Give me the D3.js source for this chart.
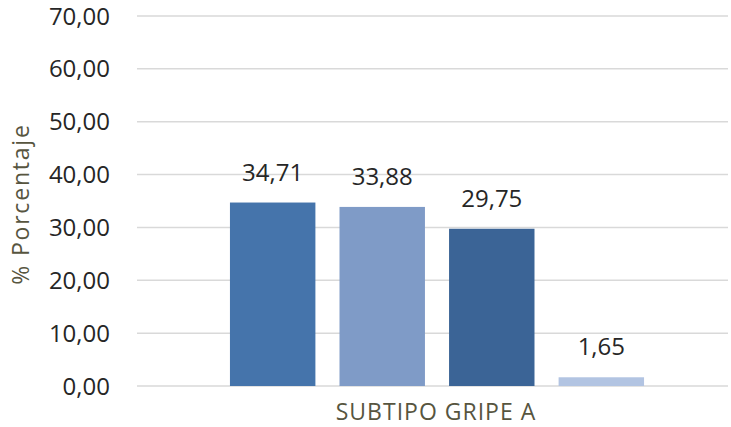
<!DOCTYPE html>
<html>
<head>
<meta charset="utf-8">
<script src="https://cdn.jsdelivr.net/npm/d3@7"></script>
<style>
  body { margin: 0; background: #fff; }
  text { font-family: "Open Sans", sans-serif; }
</style>
</head>
<body>
<div id="chart"></div>
<script>
// data
var category = "SUBTIPO GRIPE A";
var series = ["s1", "s2", "s3", "s4"];
var values = [34.71, 33.88, 29.75, 1.65];
var colors = ["#4574ab", "#7f9bc7", "#3b6496", "#b2c4e2"];
var yTicks = [0, 10, 20, 30, 40, 50, 60, 70];

var width = 731, height = 427;
var plotLeft = 137, plotRight = 728;

var svg = d3.select("#chart").append("svg")
  .attr("width", width)
  .attr("height", height);

var y = d3.scaleLinear().domain([0, 70]).range([386, 16]);

var x = d3.scaleBand()
  .domain(series)
  .range([219, 655])
  .paddingInner(0.22)
  .paddingOuter(0.1);

var fmt = function(d) { return d.toFixed(2).replace(".", ","); };

// gridlines
svg.append("g")
  .selectAll("line")
  .data(yTicks)
  .enter().append("line")
  .attr("x1", plotLeft)
  .attr("x2", plotRight)
  .attr("y1", function(d) { return y(d); })
  .attr("y2", function(d) { return y(d); })
  .attr("stroke", "#d9d9d9")
  .attr("stroke-width", 1.5);

// tick labels
svg.append("g")
  .selectAll("text")
  .data(yTicks)
  .enter().append("text")
  .attr("x", 110)
  .attr("y", function(d) { return y(d) + 8.5; })
  .attr("text-anchor", "end")
  .attr("font-size", 24)
  .attr("fill", "#262626")
  .text(fmt);

// bars
svg.append("g")
  .selectAll("rect")
  .data(values)
  .enter().append("rect")
  .attr("x", function(d, i) { return x(series[i]); })
  .attr("width", x.bandwidth())
  .attr("y", function(d) { return y(d); })
  .attr("height", function(d) { return y(0) - y(d); })
  .attr("fill", function(d, i) { return colors[i]; });

// value labels
svg.append("g")
  .selectAll("text")
  .data(values)
  .enter().append("text")
  .attr("x", function(d, i) { return x(series[i]) + x.bandwidth() / 2; })
  .attr("y", function(d) { return y(d) - 22; })
  .attr("text-anchor", "middle")
  .attr("font-size", 24)
  .attr("fill", "#262626")
  .text(fmt);

// category label
svg.append("text")
  .attr("x", 436)
  .attr("y", 412)
  .attr("dy", "0.35em")
  .attr("text-anchor", "middle")
  .attr("font-size", 23)
  .attr("letter-spacing", 1)
  .attr("fill", "#57553f")
  .text(category);

// y title
svg.append("text")
  .attr("transform", "translate(21,204) rotate(-90)")
  .attr("dy", "0.35em")
  .attr("text-anchor", "middle")
  .attr("font-size", 23)
  .attr("letter-spacing", 1.8)
  .attr("fill", "#57553f")
  .text("% Porcentaje");
</script>
</body>
</html>
